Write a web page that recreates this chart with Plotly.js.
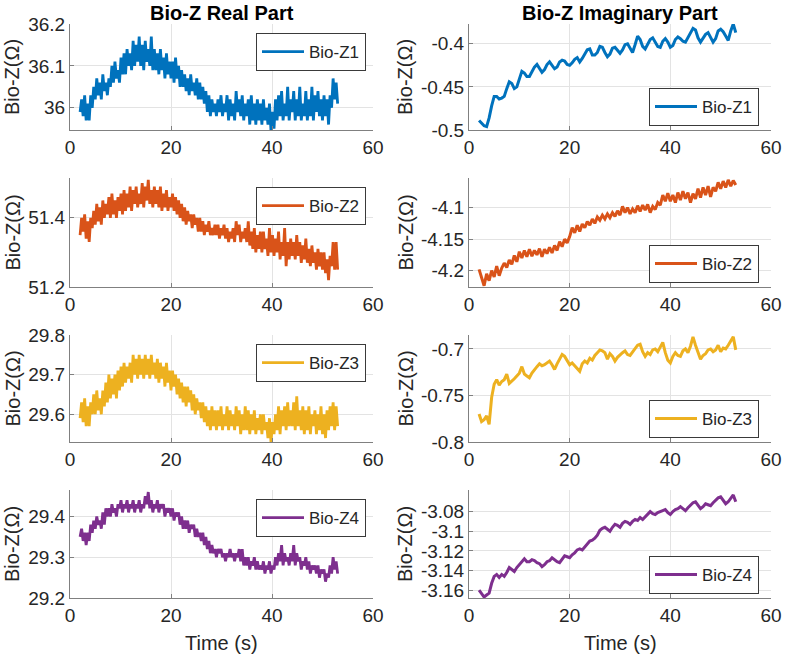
<!DOCTYPE html>
<html><head><meta charset="utf-8">
<script src="https://cdn.plot.ly/plotly-3.0.1.min.js"></script>
<style>html,body{margin:0;padding:0;background:#fff}#chart{width:785px;height:655px}</style>
</head><body><div id="chart"></div>
<script>
const seriesNames = ['Bio-Z1','Bio-Z2','Bio-Z3','Bio-Z4'];
const columnTitles = ['Bio-Z Real Part','Bio-Z Imaginary Part'];
const yLabel = 'Bio-Z(\u03A9)';
const xLabel = 'Time (s)';
const tStart = 2.0;
const tStepReal = 0.3;
const tStepImag = 0.5;

const realZ1 = [35.99,36.02,35.98,36.03,35.97,36.01,35.97,36.03,36.00,36.05,
36.02,36.07,36.03,36.06,36.02,36.08,36.04,36.06,36.03,36.07,
36.05,36.10,36.06,36.11,36.07,36.09,36.06,36.12,36.08,36.13,
36.08,36.14,36.10,36.13,36.09,36.16,36.10,36.15,36.11,36.17,
36.10,36.15,36.09,36.16,36.11,36.14,36.10,36.17,36.09,36.14,
36.09,36.13,36.08,36.14,36.09,36.12,36.07,36.13,36.08,36.11,
36.07,36.11,36.06,36.12,36.07,36.10,36.05,36.09,36.05,36.08,
36.04,36.07,36.03,36.08,36.04,36.06,36.03,36.07,36.02,36.06,
36.02,36.05,36.01,36.04,35.99,36.03,35.98,36.02,35.99,36.01,
35.98,36.02,35.99,36.03,35.98,36.01,35.99,36.03,35.97,36.02,
35.98,36.01,35.97,36.04,35.99,36.02,35.98,36.03,35.97,36.01,
35.98,36.02,35.96,36.03,35.97,36.01,35.96,36.02,35.97,36.01,
35.96,36.02,35.97,36.00,35.96,36.01,35.945,35.99,35.95,36.02,
35.97,36.03,35.98,36.04,35.97,36.01,35.98,36.05,35.97,36.02,
35.99,36.04,35.97,36.02,35.98,36.05,35.97,36.01,35.98,36.04,
35.97,36.02,35.98,36.05,35.97,36.03,35.99,36.04,35.98,36.02,
35.97,36.03,35.98,36.02,35.96,36.03,36.00,36.07,36.02,36.06,
36.01];

const realZ2 = [51.35,51.40,51.36,51.41,51.34,51.39,51.33,51.40,51.37,51.42,
51.38,51.44,51.39,51.43,51.38,51.45,51.40,51.44,51.41,51.46,
51.40,51.47,51.41,51.45,51.40,51.46,51.42,51.47,51.41,51.48,
51.42,51.47,51.43,51.49,51.42,51.48,51.44,51.49,51.43,51.47,
51.44,51.50,51.43,51.49,51.45,51.51,51.44,51.48,51.43,51.49,
51.44,51.48,51.43,51.49,51.42,51.47,51.43,51.48,51.42,51.46,
51.43,51.47,51.42,51.46,51.41,51.45,51.40,51.44,51.39,51.43,
51.38,51.42,51.39,51.41,51.37,51.41,51.38,51.40,51.36,51.40,
51.36,51.39,51.35,51.38,51.36,51.39,51.35,51.37,51.35,51.38,
51.35,51.38,51.34,51.37,51.35,51.38,51.34,51.37,51.33,51.36,
51.34,51.37,51.33,51.39,51.35,51.38,51.33,51.36,51.34,51.37,
51.33,51.39,51.32,51.36,51.31,51.37,51.30,51.35,51.31,51.36,
51.30,51.36,51.31,51.34,51.29,51.37,51.30,51.35,51.29,51.34,
51.30,51.36,51.28,51.33,51.29,51.37,51.26,51.33,51.28,51.34,
51.29,51.33,51.28,51.35,51.29,51.33,51.27,51.32,51.28,51.34,
51.27,51.31,51.26,51.32,51.27,51.30,51.25,51.31,51.26,51.30,
51.25,51.30,51.24,51.28,51.22,51.29,51.26,51.33,51.25,51.33,
51.25];

const realZ3 = [29.59,29.63,29.58,29.64,29.57,29.62,29.57,29.63,29.60,29.65,
29.60,29.66,29.61,29.64,29.60,29.66,29.62,29.68,29.63,29.70,
29.64,29.69,29.65,29.70,29.64,29.71,29.66,29.72,29.67,29.73,
29.68,29.72,29.69,29.73,29.68,29.75,29.70,29.74,29.69,29.75,
29.70,29.74,29.69,29.75,29.70,29.74,29.69,29.75,29.70,29.73,
29.69,29.74,29.68,29.73,29.69,29.72,29.67,29.73,29.68,29.71,
29.66,29.71,29.67,29.70,29.65,29.69,29.64,29.68,29.63,29.67,
29.62,29.67,29.63,29.66,29.61,29.65,29.60,29.64,29.61,29.63,
29.59,29.63,29.58,29.62,29.57,29.61,29.56,29.62,29.57,29.61,
29.56,29.61,29.57,29.62,29.56,29.60,29.57,29.62,29.56,29.61,
29.57,29.60,29.56,29.62,29.57,29.61,29.55,29.60,29.56,29.62,
29.56,29.61,29.55,29.60,29.56,29.61,29.55,29.59,29.56,29.60,
29.55,29.60,29.56,29.58,29.54,29.59,29.53,29.58,29.55,29.60,
29.56,29.62,29.55,29.61,29.57,29.62,29.56,29.63,29.57,29.61,
29.57,29.63,29.56,29.645,29.57,29.61,29.56,29.62,29.55,29.61,
29.56,29.62,29.55,29.60,29.57,29.61,29.55,29.60,29.56,29.62,
29.55,29.60,29.54,29.61,29.56,29.62,29.57,29.63,29.56,29.62,
29.57];

const realZ4 = [29.35,29.37,29.34,29.36,29.33,29.36,29.34,29.38,29.36,29.39,
29.37,29.40,29.38,29.39,29.37,29.41,29.38,29.42,29.40,29.42,
29.40,29.43,29.41,29.42,29.40,29.43,29.42,29.44,29.41,29.43,
29.42,29.44,29.41,29.43,29.42,29.44,29.41,29.43,29.42,29.44,
29.41,29.43,29.42,29.45,29.43,29.46,29.42,29.44,29.41,29.43,
29.42,29.44,29.41,29.43,29.42,29.43,29.40,29.42,29.41,29.42,
29.40,29.42,29.39,29.41,29.40,29.41,29.38,29.40,29.37,29.39,
29.37,29.39,29.36,29.38,29.37,29.38,29.35,29.37,29.35,29.36,
29.34,29.36,29.33,29.35,29.32,29.34,29.31,29.33,29.31,29.32,
29.30,29.32,29.31,29.32,29.30,29.31,29.29,29.31,29.30,29.32,
29.30,29.31,29.29,29.31,29.30,29.32,29.29,29.32,29.28,29.30,
29.28,29.30,29.27,29.29,29.28,29.30,29.27,29.29,29.27,29.28,
29.27,29.29,29.26,29.28,29.27,29.29,29.26,29.28,29.27,29.30,
29.28,29.31,29.29,29.33,29.28,29.31,29.29,29.30,29.28,29.31,
29.29,29.33,29.28,29.31,29.29,29.30,29.27,29.29,29.28,29.30,
29.27,29.29,29.26,29.28,29.27,29.28,29.26,29.28,29.25,29.27,
29.26,29.27,29.24,29.26,29.25,29.28,29.26,29.30,29.27,29.29,
29.26];

const imagZ1 = [-0.489,-0.492,-0.495,-0.496,-0.486,-0.472,-0.461,-0.461,-0.464,-0.463,
-0.461,-0.452,-0.444,-0.446,-0.452,-0.450,-0.440,-0.432,-0.434,-0.438,
-0.438,-0.433,-0.427,-0.424,-0.428,-0.433,-0.430,-0.424,-0.421,-0.425,
-0.429,-0.427,-0.421,-0.419,-0.420,-0.424,-0.425,-0.422,-0.418,-0.416,
-0.421,-0.417,-0.412,-0.407,-0.406,-0.413,-0.413,-0.410,-0.403,-0.404,
-0.410,-0.415,-0.412,-0.405,-0.404,-0.408,-0.411,-0.407,-0.401,-0.400,
-0.405,-0.410,-0.401,-0.391,-0.395,-0.403,-0.406,-0.401,-0.395,-0.393,
-0.398,-0.403,-0.404,-0.397,-0.394,-0.398,-0.404,-0.402,-0.395,-0.392,
-0.394,-0.397,-0.398,-0.393,-0.388,-0.382,-0.384,-0.393,-0.398,-0.394,
-0.389,-0.387,-0.393,-0.398,-0.394,-0.385,-0.383,-0.386,-0.391,-0.396,
-0.385,-0.377,-0.387];

const imagZ2 = [-4.198,-4.212,-4.224,-4.205,-4.216,-4.200,-4.210,-4.193,-4.208,-4.196,
-4.188,-4.195,-4.183,-4.190,-4.176,-4.186,-4.170,-4.180,-4.168,-4.178,
-4.166,-4.177,-4.168,-4.175,-4.165,-4.178,-4.166,-4.173,-4.163,-4.172,
-4.160,-4.168,-4.154,-4.162,-4.150,-4.156,-4.146,-4.132,-4.140,-4.128,
-4.138,-4.126,-4.132,-4.122,-4.128,-4.118,-4.125,-4.115,-4.120,-4.112,
-4.118,-4.110,-4.116,-4.108,-4.114,-4.105,-4.112,-4.098,-4.108,-4.100,
-4.110,-4.102,-4.108,-4.097,-4.106,-4.096,-4.104,-4.095,-4.108,-4.098,
-4.103,-4.092,-4.096,-4.080,-4.090,-4.077,-4.090,-4.080,-4.092,-4.076,
-4.088,-4.074,-4.086,-4.076,-4.092,-4.078,-4.086,-4.070,-4.084,-4.068,
-4.080,-4.066,-4.083,-4.068,-4.074,-4.060,-4.070,-4.058,-4.068,-4.056,
-4.066,-4.057,-4.064];

const imagZ3 = [-0.770,-0.778,-0.776,-0.772,-0.781,-0.752,-0.738,-0.733,-0.739,-0.735,
-0.733,-0.727,-0.737,-0.735,-0.732,-0.729,-0.726,-0.719,-0.727,-0.729,
-0.731,-0.726,-0.722,-0.719,-0.716,-0.718,-0.717,-0.715,-0.713,-0.717,
-0.722,-0.716,-0.711,-0.706,-0.708,-0.713,-0.717,-0.715,-0.718,-0.720,
-0.724,-0.716,-0.713,-0.715,-0.710,-0.712,-0.707,-0.704,-0.701,-0.702,
-0.704,-0.711,-0.705,-0.708,-0.713,-0.709,-0.706,-0.704,-0.702,-0.706,
-0.707,-0.703,-0.700,-0.696,-0.695,-0.703,-0.708,-0.704,-0.706,-0.701,
-0.700,-0.703,-0.698,-0.693,-0.704,-0.712,-0.715,-0.708,-0.704,-0.707,
-0.708,-0.702,-0.700,-0.704,-0.697,-0.687,-0.696,-0.704,-0.711,-0.707,
-0.705,-0.701,-0.700,-0.703,-0.701,-0.696,-0.703,-0.699,-0.700,-0.696,
-0.692,-0.687,-0.701];

const imagZ4 = [-3.160,-3.164,-3.167,-3.165,-3.163,-3.153,-3.146,-3.144,-3.147,-3.144,
-3.146,-3.142,-3.137,-3.139,-3.141,-3.137,-3.134,-3.130,-3.128,-3.131,
-3.131,-3.129,-3.130,-3.132,-3.133,-3.136,-3.134,-3.131,-3.130,-3.127,
-3.129,-3.131,-3.132,-3.128,-3.125,-3.126,-3.127,-3.124,-3.122,-3.119,
-3.118,-3.119,-3.116,-3.112,-3.110,-3.109,-3.107,-3.104,-3.099,-3.097,
-3.096,-3.098,-3.100,-3.096,-3.093,-3.094,-3.096,-3.092,-3.090,-3.091,
-3.093,-3.090,-3.088,-3.089,-3.086,-3.088,-3.085,-3.082,-3.080,-3.082,
-3.083,-3.081,-3.080,-3.079,-3.078,-3.081,-3.083,-3.080,-3.078,-3.077,
-3.075,-3.077,-3.079,-3.076,-3.073,-3.071,-3.070,-3.074,-3.077,-3.075,
-3.072,-3.073,-3.074,-3.071,-3.068,-3.066,-3.065,-3.069,-3.072,-3.070,
-3.067,-3.063,-3.070];

const xTickVals = [0, 20, 40, 60];
const xTickText = ['0', '20', '40', '60'];
const realTickVals = [[36, 36.1, 36.2], [51.2, 51.4], [29.6, 29.7, 29.8], [29.2, 29.3, 29.4]];
const realTickText = [['36', '36.1', '36.2'], ['51.2', '51.4'], ['29.6', '29.7', '29.8'], ['29.2', '29.3', '29.4']];
const imagTickVals = [[-0.5, -0.45, -0.4], [-4.2, -4.15, -4.1], [-0.8, -0.75, -0.7], [-3.16, -3.14, -3.12, -3.1, -3.08]];
const imagTickText = [['-0.5', '-0.45', '-0.4'], ['-4.2', '-4.15', '-4.1'], ['-0.8', '-0.75', '-0.7'], ['-3.16', '-3.14', '-3.12', '-3.1', '-3.08']];
const realRanges = [[35.947, 36.2], [51.2, 51.515], [29.53, 29.80], [29.2, 29.465]];
const imagRanges = [[-0.5, -0.377], [-4.226, -4.053], [-0.8, -0.685], [-3.168, -3.058]];

// ---------- layout / styling ----------
const W = 785, H = 655;
const colors = ['#0072BD', '#D95319', '#EDB120', '#7E2F8E'];
const FONT = 'Liberation Sans, Arial, Helvetica, sans-serif';
const realData = [realZ1, realZ2, realZ3, realZ4];
const imagData = [imagZ1, imagZ2, imagZ3, imagZ4];
const colPx = [[70, 373], [469, 771]];
const rowPx = [[24, 130], [178, 287], [335, 442], [490, 598]];

const traces = [];
const layout = {
  width: W, height: H,
  margin: {l: 0, r: 0, t: 0, b: 0},
  paper_bgcolor: '#fff', plot_bgcolor: '#fff',
  font: {family: FONT, color: '#262626', size: 19},
  annotations: [], showlegend: true
};

function axisCommon() {
  return {
    showline: true, linecolor: '#808080', linewidth: 1,
    showgrid: true, gridcolor: '#e3e3e3', gridwidth: 1,
    zeroline: false, ticks: 'inside', ticklen: 4, tickcolor: '#808080',
    tickfont: {family: FONT, size: 19, color: '#262626'},
    fixedrange: true
  };
}

let k = 0;
for (let r = 0; r < 4; r++) {
  for (let c = 0; c < 2; c++) {
    k++;
    const sfx = k === 1 ? '' : String(k);
    const legName = 'legend' + sfx;
    const ys = c === 0 ? realData[r] : imagData[r];
    traces.push({
      type: 'scatter', mode: 'lines',
      x0: tStart, dx: c === 0 ? tStepReal : tStepImag,
      y: ys, name: seriesNames[r],
      xaxis: 'x' + sfx, yaxis: 'y' + sfx,
      legend: legName,
      line: {color: colors[r], width: c === 0 ? 2.8 : 3},
      hoverinfo: 'skip'
    });
    const xd = [colPx[c][0] / W, colPx[c][1] / W];
    const yd = [1 - rowPx[r][1] / H, 1 - rowPx[r][0] / H];
    layout['xaxis' + sfx] = Object.assign(axisCommon(), {
      domain: xd, anchor: 'y' + sfx, range: [0, 60],
      tickmode: 'array', tickvals: xTickVals, ticktext: xTickText
    });
    layout['yaxis' + sfx] = Object.assign(axisCommon(), {
      domain: yd, anchor: 'x' + sfx,
      range: c === 0 ? realRanges[r] : imagRanges[r],
      tickmode: 'array',
      tickvals: c === 0 ? realTickVals[r] : imagTickVals[r],
      ticktext: c === 0 ? realTickText[r] : imagTickText[r]
    });
    const legCommon = {
      bgcolor: '#fff', bordercolor: '#3a3a3a', borderwidth: 1,
      font: {family: FONT, size: 17, color: '#262626'},
      xanchor: 'right', itemwidth: 42, tracegroupgap: 0
    };
    if (c === 0) {
      layout[legName] = Object.assign(legCommon, {
        x: (colPx[c][1] - 7) / W, y: 1 - (rowPx[r][0] + 9) / H, yanchor: 'top'
      });
    } else {
      layout[legName] = Object.assign(legCommon, {
        x: (colPx[c][1] - 12) / W, y: 1 - (rowPx[r][1] - 4) / H, yanchor: 'bottom'
      });
    }
    layout.annotations.push({
      xref: 'paper', yref: 'paper',
      x: (c === 0 ? 12 : 405) / W,
      y: 1 - (rowPx[r][0] + rowPx[r][1]) / 2 / H,
      text: yLabel, textangle: -90, showarrow: false,
      xanchor: 'center', yanchor: 'middle',
      font: {family: FONT, size: 20, color: '#262626'}
    });
  }
}
for (let c = 0; c < 2; c++) {
  layout.annotations.push({
    xref: 'paper', yref: 'paper',
    x: (colPx[c][0] + colPx[c][1]) / 2 / W, y: 1 - 13 / H,
    text: '<b>' + columnTitles[c] + '</b>', showarrow: false,
    xanchor: 'center', yanchor: 'middle',
    font: {family: FONT, size: 20, color: '#000'}
  });
  layout.annotations.push({
    xref: 'paper', yref: 'paper',
    x: (colPx[c][0] + colPx[c][1]) / 2 / W, y: 1 - 643 / H,
    text: xLabel, showarrow: false,
    xanchor: 'center', yanchor: 'middle',
    font: {family: FONT, size: 20, color: '#262626'}
  });
}

Plotly.newPlot('chart', traces, layout, {staticPlot: true, displayModeBar: false});
</script></body></html>
